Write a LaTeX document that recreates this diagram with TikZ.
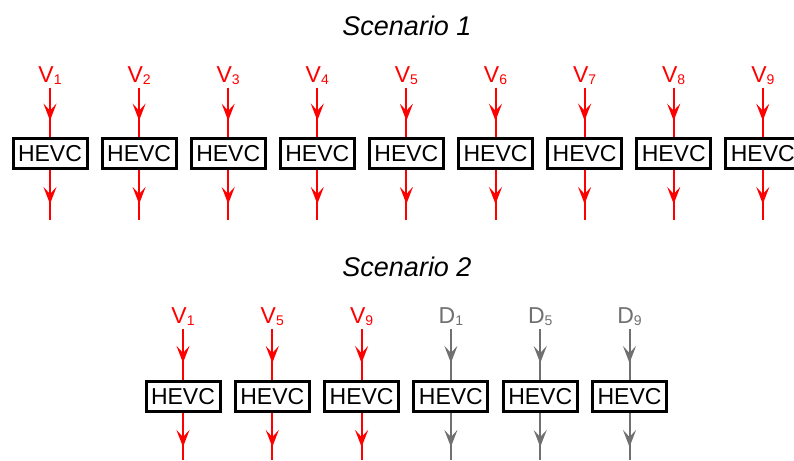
\documentclass[tikz,border=0pt]{standalone}
\usepackage{fontspec}
\setmainfont{Liberation Sans}
\usetikzlibrary{arrows.meta,calc}
\definecolor{vred}{RGB}{255,0,0}
\definecolor{dgray}{RGB}{112,112,112}
\newcommand{\subidx}[1]{\raisebox{-2.6pt}{\fontsize{14}{16}\selectfont #1}}
\begin{document}
\begin{tikzpicture}[x=1pt,y=-1pt,
  hevc/.style={draw=black, line width=3pt, minimum width=74pt, minimum height=30pt, inner sep=0pt, font=\fontsize{23}{27}\selectfont},
  lbl/.style={anchor=base, inner sep=0pt, outer sep=0pt, font=\fontsize{23}{27}\selectfont},
  flow/.style={line width=2pt},
  headarrow/.style={line width=2pt, -{Stealth[length=17pt,width=13pt,inset=7pt]}},
  ttl/.style={anchor=base, inner sep=0pt, font=\fontsize{27}{32}\selectfont\itshape}]
\useasboundingbox (0,0) rectangle (794,460);
\clip (0,0) rectangle (794,460);
\node[ttl] (t1) at (407,36) {Scenario 1};
\node[ttl] (t2) at (407,276) {Scenario 2};
\foreach \i in {1,...,9} {
  \pgfmathsetmacro{\xx}{50+89.1*(\i-1)}
  \node[lbl, text=vred] (v\i) at (\xx,82) {V\subidx{\i}};
  \node[hevc] (b\i) at (\xx,153.5) {HEVC};
  \coordinate (e\i) at (\xx,220);
  \coordinate (p\i) at ([yshift=-3pt]v\i.south);
  \draw[flow, vred] (p\i) -- (b\i.north);
  \draw[headarrow, vred] (p\i) -- ($(p\i)!33pt!(b\i.north)$);
  \draw[flow, vred] (b\i.south) -- (e\i);
  \draw[headarrow, vred] (b\i.south) -- ($(b\i.south)!34pt!(e\i)$);
}
\foreach \x/\L/\n/\c/\k in {183/V/1/vred/a, 272.3/V/5/vred/b, 361.6/V/9/vred/c, 450.9/D/1/dgray/d, 540.2/D/5/dgray/e, 629.5/D/9/dgray/f} {
  \node[lbl, text=\c] (s\k) at (\x,323.3) {\L\subidx{\n}};
  \node[hevc] (h\k) at (\x,396.5) {HEVC};
  \coordinate (z\k) at (\x,460);
  \coordinate (q\k) at ([yshift=-3pt]s\k.south);
  \draw[flow, \c] (q\k) -- (h\k.north);
  \draw[headarrow, \c] (q\k) -- ($(q\k)!34pt!(h\k.north)$);
  \draw[flow, \c] (h\k.south) -- (z\k);
  \draw[headarrow, \c] (h\k.south) -- ($(h\k.south)!34pt!(z\k)$);
}
\end{tikzpicture}
\end{document}
